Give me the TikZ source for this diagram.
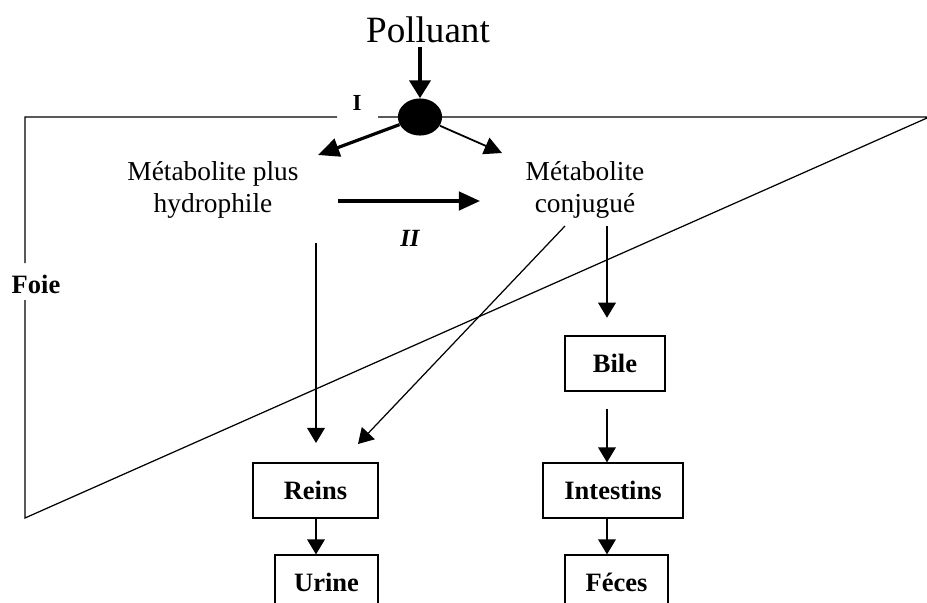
\documentclass[tikz,border=0pt]{standalone}
\usepackage{fontspec}
\setmainfont{Liberation Serif}
\usetikzlibrary{arrows.meta,shapes.geometric}
\tikzset{lbl/.style={font=\fontsize{15.5}{18}\selectfont,align=center,inner sep=0pt}}
\tikzset{blbl/.style={font=\fontsize{15}{15}\bfseries\selectfont,inner sep=0pt}}
\tikzset{organ/.style={draw,line width=0.8pt,minimum height=31pt,font=\fontsize{15}{15}\bfseries\selectfont}}
\tikzset{thinarr/.style={line width=0.7pt,-{Triangle[length=8.5pt,width=10pt]}}}
\tikzset{thickarr/.style={line width=1.8pt,-{Triangle[length=12pt,width=10.5pt]}}}

\begin{document}
\begin{tikzpicture}[x=0.566pt,y=-0.566pt]
        \clip (0,0) rectangle (927,603);
        % le foie
        \draw[line width=0.7pt] (337,117) -- (25,117) -- (25,263)
          (25,300) -- (25,518) -- (927,118) (927,117) -- (378,117);
        \node[blbl] (foie) at (36,284) {Foie};
        \node[blbl,font=\fontsize{13}{13}\bfseries\selectfont] (phI) at (357,103) {I};
        % polluant
        \node[lbl,font=\fontsize{21}{21}\selectfont] (poll) at (428,30) {Polluant};
        \node[ellipse,fill,minimum width=25pt,minimum height=21pt,inner sep=0pt] (dot) at (420,117) {};
        \node[lbl] (hydro) at (213,190) {M\'etabolite plus\\hydrophile};
        \node[lbl] (conj) at (585,190) {M\'etabolite\\conjugu\'e};
        \node[font=\fontsize{14}{14}\bfseries\itshape\selectfont] (phII) at (410,238) {II};
        % organes
        \node[organ,minimum width=56.6pt] (bile) at (615,363.5) {Bile};
        \node[organ,minimum width=70.8pt] (reins) at (315.5,490.5) {Reins};
        \node[organ,minimum width=79.2pt] (intest) at (613,490.5) {Intestins};
        \node[organ,minimum width=58.3pt] (urine) at (326.5,582.5) {Urine};
        \node[organ,minimum width=58.3pt] (feces) at (616.5,582.5) {F\'eces};
        % points d'attache
        \coordinate (h1) at (318,155);
        \coordinate (c1) at (502,153);
        \coordinate (h2) at (338,201);
        \coordinate (c2) at (480,201);
        \coordinate (h3) at (316,243);
        \coordinate (c3) at (565,226);
        \coordinate (r1) at (358,444);
        \coordinate (c4) at (607,226);
        % fleches
        \draw[line width=1.8pt,-{Triangle[length=10pt,width=12pt]}] (poll.south -| dot) ++(0,4) -- (dot.north);
        \draw[thickarr] (dot) -- (h1);
        \draw[line width=1pt,-{Triangle[length=10pt,width=10pt]}] (dot) -- (c1);
        \draw[thickarr] (h2) -- (c2);
        \draw[thinarr,shorten >=11pt] (h3) -- (h3 |- reins.north);
        \draw[thinarr] (c3) -- (r1);
        \draw[thinarr,shorten >=10pt] (c4) -- (c4 |- bile.north);
        \draw[thinarr] (c4 |- bile.south) ++(0,17) -- (c4 |- intest.north);
        \draw[thinarr] (reins.south -| h3) -- (h3 |- urine.north);
        \draw[thinarr] (intest.south -| c4) -- (c4 |- feces.north);
\end{tikzpicture}
\end{document}
